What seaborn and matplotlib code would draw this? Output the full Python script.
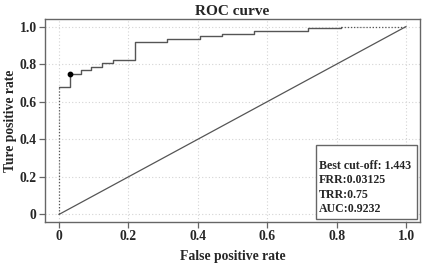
import numpy as np
import pandas as pd
import matplotlib.pyplot as plt
import matplotlib as mpl
from matplotlib.patches import Rectangle
import seaborn as sns

# ROC step points
fpr = [0, 0.03125, 0.0625, 0.09375, 0.125, 0.15625, 0.21875, 0.3125,
       0.40625, 0.46875, 0.5625, 0.71875, 0.8125, 1.0]
tpr = [0.68, 0.75, 0.767, 0.783, 0.808, 0.822, 0.92, 0.932,
       0.95, 0.962, 0.975, 0.99, 1.0, 1.0]
best_fpr, best_tpr = 0.03125, 0.75
ticks = [0, 0.2, 0.4, 0.6, 0.8, 1.0]
tick_labels = ['0', '0.2', '0.4', '0.6', '0.8', '1.0']
info_lines = ['Best cut-off: 1.443', 'FRR:0.03125', 'TRR:0.75', 'AUC:0.9232']

sns.set_theme(style='white')
mpl.rcParams['font.family'] = ['Liberation Serif', 'DejaVu Serif']
mpl.rcParams['font.weight'] = 'bold'

LINE = '#555555'
FRAME = '#666666'

fig = plt.figure(figsize=(4.22, 2.65), dpi=100)
ax = fig.add_axes([45 / 422, 1 - 222 / 265, 375 / 422, 203 / 265])

df = pd.DataFrame({'fpr': fpr[:-1], 'tpr': tpr[:-1]})
sns.lineplot(data=df, x='fpr', y='tpr', ax=ax, color=LINE, lw=1.0,
             drawstyle='steps-post', estimator=None, sort=False, zorder=3)
# dotted ends of the curve
ax.plot([fpr[0], fpr[0]], [0, tpr[0]], color=LINE, lw=0.9, ls=(0, (1, 1.5)), zorder=3)
ax.plot([fpr[-2], fpr[-1]], [tpr[-2], tpr[-1]], color=LINE, lw=0.9, ls=(0, (1, 1.5)), zorder=3)
# chance diagonal
ax.plot([0, 1], [0, 1], color=LINE, lw=0.9, zorder=2)
ax.scatter([best_fpr], [best_tpr], color='black', s=10, zorder=5)

ax.set_xlim(-0.04, 1.04)
ax.set_ylim(-0.04, 1.04)
ax.set_xticks(ticks)
ax.set_xticklabels(tick_labels)
ax.set_yticks(ticks)
ax.set_yticklabels(tick_labels)
ax.grid(True, color='#d4d4d4', ls=(0, (1, 2)), lw=0.8)
ax.tick_params(axis='both', which='major', direction='out', length=4, width=0.9,
               color=FRAME, labelsize=9.8, pad=2, bottom=True, left=True)
for lab in ax.get_xticklabels() + ax.get_yticklabels():
    lab.set_fontweight('bold')
for sp in ax.spines.values():
    sp.set_color(FRAME)
    sp.set_linewidth(1.0)

ax.set_xlabel('False positive rate', fontsize=9.8, fontweight='bold', labelpad=5)
ax.set_ylabel('Ture positive rate', fontsize=9.8, fontweight='bold', labelpad=2)
ax.set_title('ROC curve', fontsize=11, fontweight='bold', pad=3)

# info box in the lower right corner
ax.add_patch(Rectangle((0.723, 0.013), 0.269, 0.366, transform=ax.transAxes,
                       fc='white', ec=FRAME, lw=1.0, zorder=6))
ax.text(0.731, 0.035, '\n'.join(info_lines), transform=ax.transAxes,
        ha='left', va='bottom', fontsize=8.6, fontweight='bold',
        linespacing=1.25, zorder=7)

fig.savefig('out.png', dpi=100)
